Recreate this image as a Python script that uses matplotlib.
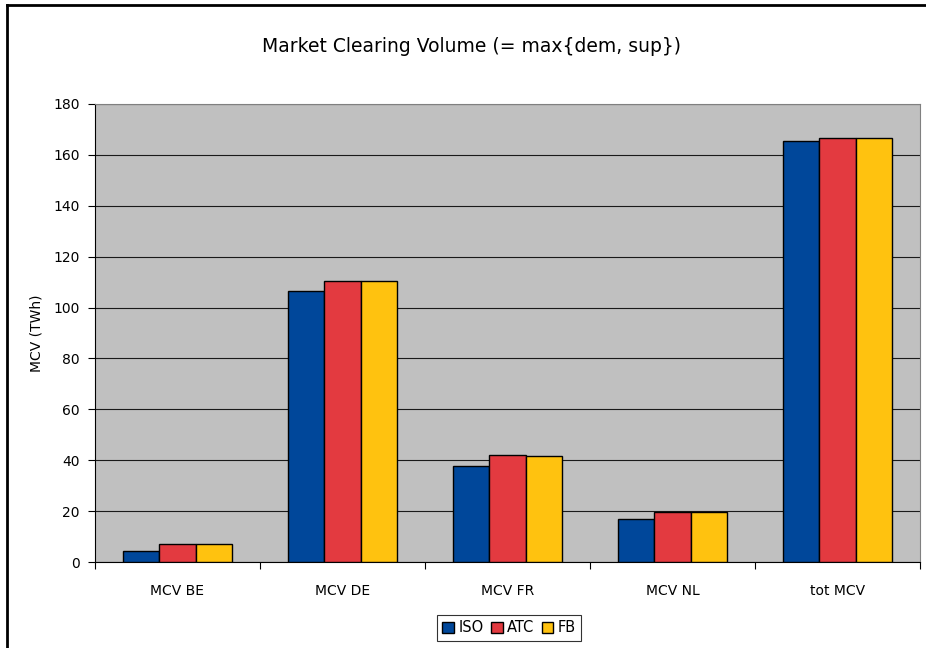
import matplotlib
matplotlib.use("Agg")
import matplotlib.pyplot as plt
import numpy as np

categories = ["MCV BE", "MCV DE", "MCV FR", "MCV NL", "tot MCV"]
iso = [4.3, 106.5, 37.7, 16.9, 165.5]
atc = [7.1, 110.5, 42.1, 19.7, 166.7]
fb = [7.1, 110.5, 41.7, 19.7, 166.8]
series_names = ["ISO", "ATC", "FB"]
colors = ["#00479A", "#E33A40", "#FFC20F"]

plt.rcParams['font.family'] = ['DejaVu Sans']
fig = plt.figure(figsize=(9.26, 6.48), dpi=100)
ax = fig.add_axes([95/926, 1-562/648, (920-95)/926, (562-104)/648])
ax.set_facecolor("#C0C0C0")

x = np.arange(len(categories))
w = 0.222
for i, (vals, name, c) in enumerate(zip([iso, atc, fb], series_names, colors)):
    ax.bar(x + (i-1)*w, vals, w, color=c, edgecolor="black", linewidth=1.0, label=name, zorder=3)

ax.set_xlim(-0.5, len(categories)-0.5)
ax.set_ylim(0, 180)
ax.set_yticks(range(0, 181, 20))
ax.yaxis.grid(True, color="#1a1a1a", linewidth=0.8, zorder=1)
ax.set_axisbelow(True)
ax.set_xticks(x)
ax.set_xticklabels(categories, fontsize=10)
ax.set_xticks(np.arange(-0.5, len(categories), 1), minor=True)
ax.tick_params(axis='x', which='major', length=0, pad=16)
ax.tick_params(axis='x', which='minor', length=5, direction='out', width=0.8)
ax.tick_params(axis='y', length=5, direction='out', labelsize=10, pad=6, width=0.8)
for s in ["top", "right"]:
    ax.spines[s].set_color("#808080")
for s in ["left", "bottom"]:
    ax.spines[s].set_color("black")
ax.set_ylabel("MCV (TWh)", fontsize=10, labelpad=20)
ax.yaxis.set_label_coords(-52/825, 0.5)

fig.text(472/926, 1-47/648, "Market Clearing Volume (= max{dem, sup})", ha="center", va="center", fontsize=13.5)

leg = fig.legend(loc="center", bbox_to_anchor=(509/926, 1-628/648), ncol=3, frameon=True, fancybox=False,
                 edgecolor="black", fontsize=10.5, handlelength=0.8, handleheight=0.8, handletextpad=0.3,
                 columnspacing=0.5, borderpad=0.35, borderaxespad=0)
leg.get_frame().set_linewidth(0.8)

# outer chart border (left and top visible)
fig.add_artist(plt.Line2D([7/926, 7/926], [0, 1-5/648], color="black", linewidth=2.0, transform=fig.transFigure))
fig.add_artist(plt.Line2D([7/926, 1], [1-5/648, 1-5/648], color="black", linewidth=2.0, transform=fig.transFigure))

fig.savefig("out.png", dpi=100)
